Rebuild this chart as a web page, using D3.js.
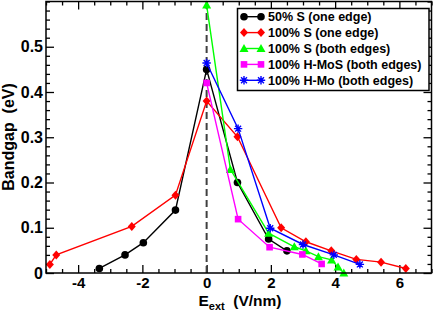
<!DOCTYPE html>
<html><head><meta charset="utf-8">
<script src="https://cdn.jsdelivr.net/npm/d3@7"></script>
<style>body{margin:0;background:#fff}svg{display:block}text{font-family:"Liberation Sans",Arial,sans-serif;font-weight:bold}</style>
</head><body>
<svg id="c" width="436" height="313"></svg>
<script>
const seriesNames = ["50% S (one edge)","100% S (one edge)","100% S (both edges)","100% H-MoS (both edges)","100% H-Mo (both edges)"];
const seriesColors = ["#000000","#ff0000","#00ff00","#ff00ff","#0000ff"];
const seriesSymbols = ["circle","diamond","triangle","square","asterisk"];
const s1x = [-3.34,-2.54,-1.97,-0.97,0,0.96,1.93,2.5];
const s1y = [0.010,0.040,0.067,0.139,0.450,0.200,0.075,0.049];
const s2x = [-4.88,-4.68,-2.33,-0.97,0,0.96,2.32,3.09,3.88,4.66,5.43,6.2];
const s2y = [0.019,0.040,0.103,0.172,0.380,0.301,0.100,0.069,0.049,0.030,0.024,0.010];
const s3x = [0,0.74,1.93,2.73,3.09,3.48,3.89,4.09,4.27];
const s3y = [0.592,0.229,0.088,0.058,0.049,0.036,0.029,0.013,0.0];
const s4x = [0,0.98,1.96,2.98,3.58];
const s4y = [0.420,0.119,0.057,0.041,0.020];
const s5x = [0,0.98,1.98,3.0,3.96,4.77];
const s5y = [0.464,0.319,0.099,0.063,0.040,0.019];
const xMajor = [-4,-2,0,2,4,6];
const yMajor = [0,0.1,0.2,0.3,0.4,0.5];
const yLabels = ["0","0.1","0.2","0.3","0.4","0.5"];
const xDomain = [-5,7], yDomain = [0,0.6];

const seriesX = [s1x,s2x,s3x,s4x,s5x], seriesY = [s1y,s2y,s3y,s4y,s5y];
const m = {l:46, r:431.5, t:1.5, b:273};
const svg = d3.select("#c");
const x = d3.scaleLinear().domain(xDomain).range([m.l,m.r]);
const y = d3.scaleLinear().domain(yDomain).range([m.b,m.t]);

const xMinor = d3.range(-5,7.001,0.5).filter(v=>!xMajor.includes(v));
const yMinor = d3.range(0,0.6001,0.02).map(v=>+v.toFixed(2)).filter(v=>!yMajor.map(d=>+d.toFixed(2)).includes(v));

function styleAxis(fs){return g=>{g.select(".domain").remove();g.selectAll("line").attr("stroke","#000").attr("stroke-width",1.3);g.selectAll("text").attr("font-size",fs).attr("font-weight","bold").attr("font-family","Liberation Sans, Arial, sans-serif").attr("fill","#000");};}
// bottom
svg.append("g").attr("transform",`translate(0,${m.b})`).call(d3.axisBottom(x).tickValues(xMajor).tickFormat(d=>String(d)).tickSize(-8).tickPadding(4)).call(styleAxis(15));
svg.append("g").attr("transform",`translate(0,${m.b})`).call(d3.axisBottom(x).tickValues(xMinor).tickFormat("").tickSize(-4)).call(styleAxis(15));
// top
svg.append("g").attr("transform",`translate(0,${m.t})`).call(d3.axisTop(x).tickValues(xMajor).tickFormat("").tickSize(-8)).call(styleAxis(15));
svg.append("g").attr("transform",`translate(0,${m.t})`).call(d3.axisTop(x).tickValues(xMinor).tickFormat("").tickSize(-4)).call(styleAxis(15));
// left
svg.append("g").attr("transform",`translate(${m.l},0)`).call(d3.axisLeft(y).tickValues(yMajor).tickFormat((d,i)=>yLabels[i]).tickSize(-8).tickPadding(3)).call(styleAxis(16));
svg.append("g").attr("transform",`translate(${m.l},0)`).call(d3.axisLeft(y).tickValues(yMinor).tickFormat("").tickSize(-4)).call(styleAxis(16));
// right
svg.append("g").attr("transform",`translate(${m.r},0)`).call(d3.axisRight(y).tickValues(yMajor).tickFormat("").tickSize(-8)).call(styleAxis(16));
svg.append("g").attr("transform",`translate(${m.r},0)`).call(d3.axisRight(y).tickValues(yMinor).tickFormat("").tickSize(-4)).call(styleAxis(16));

// dashed zero line
svg.append("line").attr("x1",x(0)).attr("x2",x(0)).attr("y1",y(0)).attr("y2",y(0.6))
  .attr("stroke","#404040").attr("stroke-width",2).attr("stroke-dasharray","7,4");

function drawSymbol(g,type,cx,cy,color){
  if(type==="circle") g.append("circle").attr("cx",cx).attr("cy",cy).attr("r",3.8).attr("fill",color);
  else if(type==="diamond") g.append("path").attr("d",`M${cx},${cy-4.5}L${cx+4},${cy}L${cx},${cy+4.5}L${cx-4},${cy}Z`).attr("fill",color);
  else if(type==="triangle") g.append("path").attr("d",`M${cx},${cy-4.5}L${cx+4.5},${cy+3.5}L${cx-4.5},${cy+3.5}Z`).attr("fill",color);
  else if(type==="square") g.append("rect").attr("x",cx-3.3).attr("y",cy-3.3).attr("width",6.6).attr("height",6.6).attr("fill",color);
  else if(type==="asterisk"){
    const r=4.2; const p=[];
    for(let k=0;k<4;k++){const a=k*Math.PI/4;p.push(`M${cx-r*Math.cos(a)},${cy-r*Math.sin(a)}L${cx+r*Math.cos(a)},${cy+r*Math.sin(a)}`);}
    g.append("path").attr("d",p.join("")).attr("stroke",color).attr("stroke-width",1.4).attr("fill","none");
  }
}

const line = d3.line().x(d=>x(d[0])).y(d=>y(d[1]));
seriesX.forEach((xs,i)=>{
  const pts = xs.map((v,j)=>[v,seriesY[i][j]]);
  const g = svg.append("g");
  g.append("path").attr("d",line(pts)).attr("fill","none").attr("stroke",seriesColors[i]).attr("stroke-width",1.4);
  pts.forEach(p=>drawSymbol(g,seriesSymbols[i],x(p[0]),y(p[1]),seriesColors[i]));
});

// frame
svg.append("rect").attr("x",m.l).attr("y",m.t).attr("width",m.r-m.l).attr("height",m.b-m.t)
  .attr("fill","none").attr("stroke","#000").attr("stroke-width",1.5);

// legend
const lg = svg.append("g");
lg.append("rect").attr("x",237.5).attr("y",8.5).attr("width",191.5).attr("height",82)
  .attr("fill","#fff").attr("stroke","#000").attr("stroke-width",1.5);
seriesNames.forEach((nm,i)=>{
  const yy = 16.7 + i*15.9;
  lg.append("line").attr("x1",244).attr("x2",261).attr("y1",yy).attr("y2",yy).attr("stroke",seriesColors[i]).attr("stroke-width",1.4);
  drawSymbol(lg,seriesSymbols[i],244,yy,seriesColors[i]);
  drawSymbol(lg,seriesSymbols[i],261,yy,seriesColors[i]);
  lg.append("text").attr("x",268).attr("y",yy).attr("dy","0.36em").attr("font-size",12.5).text(nm);
});

// axis titles
const xt = svg.append("text").attr("x",240).attr("y",305.5).attr("text-anchor","middle").attr("font-size",15.5);
xt.append("tspan").text("E");
xt.append("tspan").attr("font-size",11).attr("dy",4).text("ext");
xt.append("tspan").attr("dy",-4).text("\u00a0 (V/nm)");
svg.append("text").attr("transform",`translate(14,137) rotate(-90)`).attr("text-anchor","middle").attr("font-size",16).text("Bandgap\u00a0 (eV)");
</script>
</body></html>
